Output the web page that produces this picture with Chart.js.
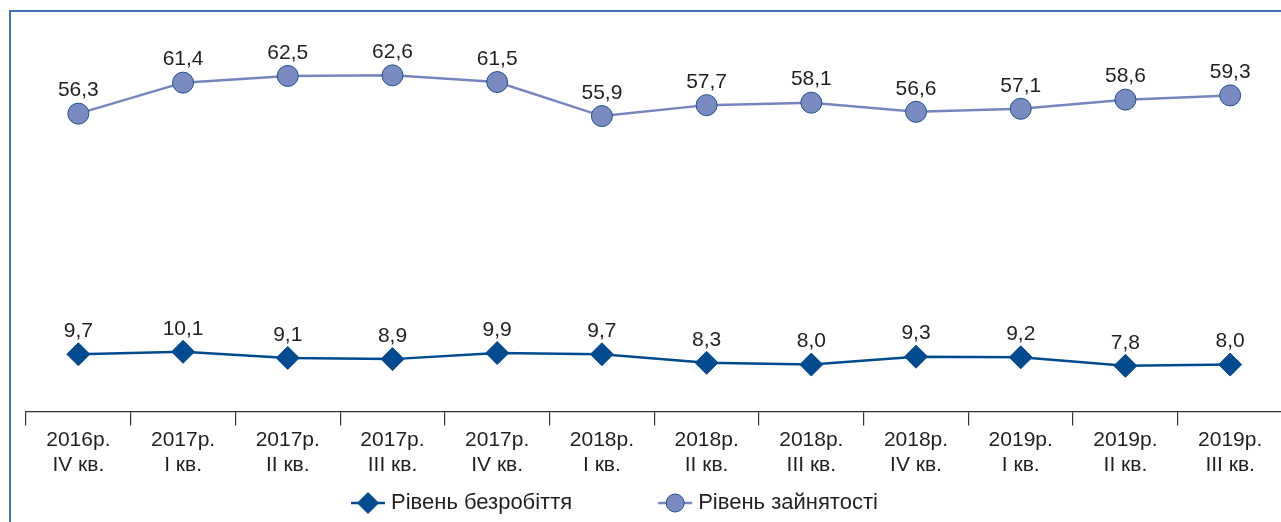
<!DOCTYPE html>
<html lang="uk">
<head>
<meta charset="utf-8">
<title>Рівень безробіття та зайнятості</title>
<script src="https://cdn.jsdelivr.net/npm/chart.js@4.4.1/dist/chart.umd.min.js"></script>
<style>
  html, body { margin: 0; padding: 0; background: #fff; overflow: hidden; }
  #wrap { position: relative; width: 1281px; height: 522px; overflow: hidden; }
  #chart { position: absolute; left: 0; top: 0; }
</style>
</head>
<body>
<div id="wrap">
  <!-- полотно ширше за вікно: права межа осі виходить за край, як у врізці -->
  <canvas id="chart" width="1295" height="522"></canvas>
</div>
<script>
  'use strict';

  // ====================================================
  // Дані
  // ====================================================
  const QUARTERS = [
    ['2016р.', 'IV кв.'],
    ['2017р.', 'I кв.'],
    ['2017р.', 'II кв.'],
    ['2017р.', 'III кв.'],
    ['2017р.', 'IV кв.'],
    ['2018р.', 'I кв.'],
    ['2018р.', 'II кв.'],
    ['2018р.', 'III кв.'],
    ['2018р.', 'IV кв.'],
    ['2019р.', 'I кв.'],
    ['2019р.', 'II кв.'],
    ['2019р.', 'III кв.']
  ];
  const UNEMPLOYMENT = [9.7, 10.1, 9.1, 8.9, 9.9, 9.7, 8.3, 8.0, 9.3, 9.2, 7.8, 8.0];
  const EMPLOYMENT = [56.3, 61.4, 62.5, 62.6, 61.5, 55.9, 57.7, 58.1, 56.6, 57.1, 58.6, 59.3];

  const FONT = '"Liberation Sans", Arial, Helvetica, sans-serif';
  const TEXT_COLOR = '#231f20';

  const DARK_BLUE = '#004a8f';
  const LIGHT_FILL = '#7a8bc2';
  const LIGHT_LINE = '#7685be';
  const LIGHT_BORDER = '#1d4f91';
  const FRAME_COLOR = '#3f72b5';

  // ====================================================
  // Рамка врізки (видно лише лівий і верхній край)
  // ====================================================
  const insetFrame = {
    id: 'insetFrame',
    beforeDraw: function (chart) {
      const ctx = chart.ctx;
      ctx.save();
      ctx.strokeStyle = FRAME_COLOR;
      ctx.lineWidth = 2;
      ctx.beginPath();
      ctx.moveTo(10, chart.height + 5);
      ctx.lineTo(10, 11);
      ctx.lineTo(chart.width + 5, 11);
      ctx.stroke();
      ctx.restore();
    }
  };

  // ====================================================
  // Підписи значень над точками (кома як десятковий знак)
  // ====================================================
  const valueLabels = {
    id: 'valueLabels',
    afterDatasetsDraw: function (chart) {
      const ctx = chart.ctx;
      ctx.save();
      ctx.font = '21px ' + FONT;
      ctx.fillStyle = TEXT_COLOR;
      ctx.textAlign = 'center';
      ctx.textBaseline = 'middle';
      chart.data.datasets.forEach(function (ds, i) {
        chart.getDatasetMeta(i).data.forEach(function (pt, j) {
          const txt = ds.data[j].toFixed(1).replace('.', ',');
          ctx.fillText(txt, pt.x, pt.y - 23);
        });
      });
      ctx.restore();
    }
  };

  // ====================================================
  // Легенда: лінія з маркером + текст
  // ====================================================
  const lineLegend = {
    id: 'lineLegend',
    afterDraw: function (chart) {
      const ctx = chart.ctx;
      const y = 503;
      const lineLen = 34;
      const textGap = 6;
      const gap = 86;
      ctx.save();
      ctx.font = '22px ' + FONT;
      ctx.textBaseline = 'middle';
      ctx.textAlign = 'left';
      let x = 351;
      chart.data.datasets.forEach(function (ds) {
        ctx.strokeStyle = ds.borderColor;
        ctx.lineWidth = ds.borderWidth;
        ctx.beginPath();
        ctx.moveTo(x, y);
        ctx.lineTo(x + lineLen, y);
        ctx.stroke();

        // маркер: drawPoint бере кольори зі стану контексту
        ctx.fillStyle = ds.pointBackgroundColor;
        ctx.strokeStyle = ds.pointBorderColor;
        ctx.lineWidth = ds.pointBorderWidth;
        Chart.helpers.drawPoint(ctx, {
          pointStyle: ds.pointStyle,
          radius: ds.legendRadius,
          borderWidth: ds.pointBorderWidth
        }, x + lineLen / 2, y);

        ctx.fillStyle = TEXT_COLOR;
        ctx.fillText(ds.label, x + lineLen + textGap, y);
        x += lineLen + textGap + ctx.measureText(ds.label).width + gap;
      });
      ctx.restore();
    }
  };

  new Chart(document.getElementById('chart'), {
    type: 'line',
    data: {
      labels: QUARTERS,
      datasets: [
        {
          label: 'Рівень безробіття',
          data: UNEMPLOYMENT,
          yAxisID: 'y',
          borderColor: DARK_BLUE,
          borderWidth: 2.5,
          pointStyle: 'rectRot',
          pointRadius: 11.5,
          pointHoverRadius: 11.5,
          pointBackgroundColor: DARK_BLUE,
          pointBorderColor: DARK_BLUE,
          pointBorderWidth: 1,
          legendRadius: 10.5,
          tension: 0
        },
        {
          label: 'Рівень зайнятості',
          data: EMPLOYMENT,
          yAxisID: 'y2',
          borderColor: LIGHT_LINE,
          borderWidth: 2.5,
          pointStyle: 'circle',
          pointRadius: 10.5,
          pointHoverRadius: 10.5,
          pointBackgroundColor: LIGHT_FILL,
          pointBorderColor: LIGHT_BORDER,
          pointBorderWidth: 1,
          legendRadius: 9,
          tension: 0
        }
      ]
    },
    options: {
      responsive: false,
      animation: false,
      layout: { padding: { top: 20, left: 26, right: 0, bottom: 42 } },
      plugins: {
        legend: { display: false },
        tooltip: { enabled: false }
      },
      scales: {
        x: {
          offset: true,
          grid: {
            display: true,
            offset: true,
            drawOnChartArea: false,
            drawTicks: true,
            tickLength: 14,
            color: '#333333',
            lineWidth: 1.2
          },
          border: { display: true, color: '#333333', width: 1.2 },
          ticks: {
            autoSkip: false,
            maxRotation: 0,
            padding: 2,
            color: TEXT_COLOR,
            font: { family: FONT, size: 21, lineHeight: 1.2 }
          }
        },
        y: { display: false, min: 0.27, max: 64.67 },
        y2: { display: false, min: 7.3, max: 71.7 }
      }
    },
    plugins: [insetFrame, valueLabels, lineLegend]
  });
</script>
</body>
</html>
